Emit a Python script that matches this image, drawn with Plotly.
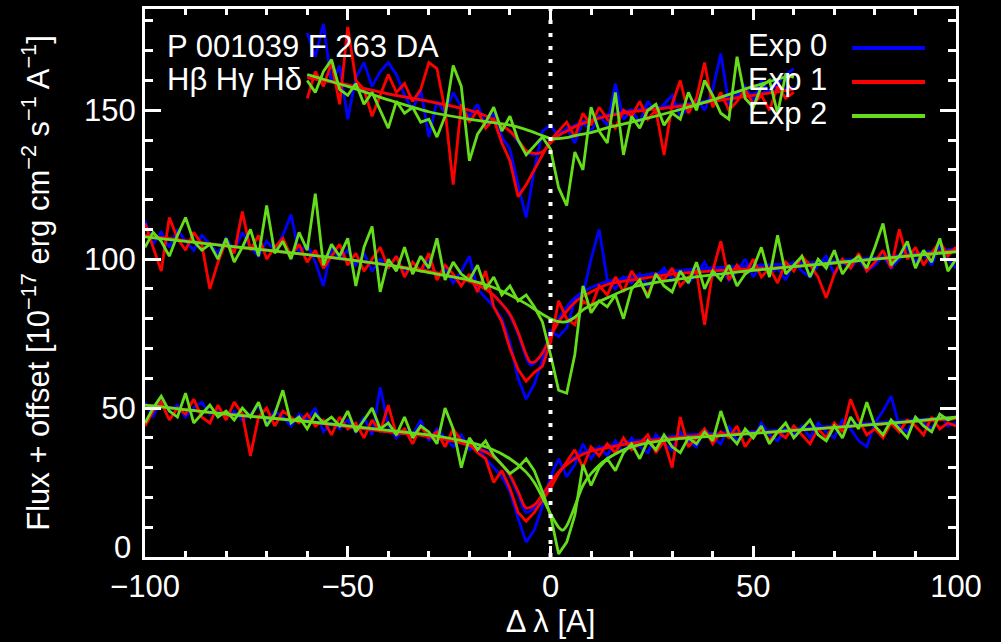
import plotly.graph_objects as go

# ---------------- wavelength grids (Delta lambda, Angstrom) ----------------
hb_lam = list(range(-100, 101, 2))   # H beta  (bottom)
hg_lam = list(range(-100, 101, 2))   # H gamma (middle)
hd_lam = list(range(-60, 61, 2))     # H delta (top)

# ---------------- H beta observed flux + offset ----------------
hb_exp0 = [52, 47, 53, 49, 51, 47, 50, 52, 48, 50,
           47, 49, 46, 48, 51, 45, 49, 47, 44, 48,
           46, 50, 42, 45, 43, 46, 42, 47, 41, 57,
           44, 40, 43, 41, 46, 39, 43, 40, 37, 41,
           36, 37, 33, 30, 27, 22, 13, 5, 9, 17,
           27, 33, 27, 31, 38, 33, 37, 34, 39, 35,
           40, 37, 35, 41, 38, 36, 42, 39, 37, 43,
           40, 38, 44, 39, 42, 40, 45, 41, 39, 43,
           41, 44, 40, 45, 42, 40, 46, 43, 39, 37,
           45, 49, 54, 44, 42, 47, 45, 43, 48, 44,
           45]
hb_exp1 = [44, 49, 52, 46, 50, 48, 53, 47, 45, 51,
           46, 52, 48, 34, 47, 50, 44, 49, 47, 45,
           48, 44, 46, 41, 47, 43, 45, 40, 46, 42,
           51, 41, 43, 38, 44, 40, 42, 37, 43, 39,
           38, 35, 33, 25, 29, 23, 15, 12, 15, 19,
           23, 28, 32, 36, 30, 37, 34, 38, 35, 40,
           36, 38, 41, 35, 39, 30, 47, 37, 40, 43,
           38, 42, 40, 44, 37, 41, 43, 39, 42, 40,
           44, 41, 38, 43, 40, 45, 42, 53, 46, 41,
           43, 40, 45, 42, 46, 44, 41, 47, 43, 45,
           44]
hb_exp2 = [45, 50, 54, 49, 47, 55, 45, 48, 51, 47,
           49, 46, 50, 47, 52, 44, 48, 56, 45, 47,
           43, 48, 45, 47, 44, 49, 42, 46, 50, 43,
           45, 41, 47, 40, 44, 42, 38, 50, 43, 30,
           40, 36, 39, 34, 31, 28, 30, 33, 29, 22,
           14, 1, 5, 14, 31, 24, 30, 33, 29, 35,
           38, 33, 39, 36, 41, 37, 35, 40, 38, 42,
           39, 49, 41, 38, 43, 40, 44, 38, 42, 45,
           40, 43, 46, 41, 39, 44, 40, 47, 43, 52,
           44, 41, 46, 43, 40, 47, 44, 42, 48, 46,
           47]

# ---------------- H gamma observed flux + offset ----------------
hg_exp0 = [113, 105, 109, 104, 110, 106, 103, 108, 105, 102,
           107, 103, 109, 104, 101, 106, 103, 108, 115, 102,
           105, 99, 91, 104, 100, 103, 98, 102, 96, 100,
           97, 101, 95, 99, 96, 100, 94, 97, 92, 96,
           101, 90, 87, 84, 80, 72, 60, 53, 58, 66,
           76, 74, 77, 86, 88, 100, 110, 93, 90, 94,
           92, 95, 91, 94, 97, 93, 96, 92, 95, 99,
           94, 97, 93, 96, 100, 94, 98, 95, 97, 93,
           99, 96, 94, 98, 101, 95, 99, 97, 100, 96,
           98, 101, 97, 100, 104, 99, 102, 98, 105, 100,
           97]
hg_exp1 = [112, 104, 96, 114, 107, 103, 109, 105, 90, 99,
           106, 102, 116, 103, 108, 100, 104, 107, 101, 105,
           99, 103, 97, 101, 105, 98, 102, 96, 100, 104,
           97, 101, 94, 99, 96, 102, 93, 98, 95, 91,
           95, 89, 96, 84, 79, 70, 63, 59, 62, 64,
           72, 86, 80, 78, 86, 84, 91, 88, 94, 89,
           96, 92, 88, 95, 93, 97, 91, 94, 96, 78,
           96, 106, 93, 98, 95, 100, 94, 97, 92, 99,
           96, 101, 98, 94, 87, 95, 100, 97, 102, 96,
           99, 103, 97, 110, 100, 104, 98, 102, 106, 101,
           104]
hg_exp2 = [104, 109, 106, 101, 108, 114, 106, 103, 105, 100,
           107, 99, 104, 110, 101, 118, 102, 106, 100, 109,
           103, 122, 98, 105, 101, 107, 91, 104, 111, 89,
           100, 96, 104, 95, 101, 97, 107, 93, 99, 95,
           93, 98, 90, 94, 88, 91, 86, 88, 84, 79,
           68, 56, 55, 68, 91, 82, 86, 84, 88, 80,
           90, 93, 87, 95, 91, 89, 96, 92, 99, 90,
           96, 93, 98, 91, 95, 97, 104, 94, 108, 95,
           98, 101, 94, 100, 97, 103, 95, 99, 101, 97,
           104, 112, 98, 101, 106, 97, 103, 99, 107, 96,
           100]

# ---------------- H delta observed flux + offset ----------------
hd_exp0 = [176, 168, 179, 159, 165, 147, 161, 166, 158, 163,
           166, 162, 155, 150, 157, 141, 153, 149, 156, 151,
           148, 152, 145, 149, 141, 137, 125, 114, 130, 143,
           145, 141, 144, 139, 146, 143, 148, 145, 159, 147,
           150, 146, 153, 149, 152, 155, 148, 151, 154, 150,
           157, 169, 152, 155, 158, 153, 160, 156, 159, 162,
           164]
hd_exp1 = [154, 163, 158, 166, 152, 178, 160, 157, 148, 155,
           162, 156, 159, 153, 157, 166, 164, 150, 125, 152,
           146, 150, 144, 147, 139, 133, 121, 125, 130, 135,
           140, 143, 146, 141, 149, 145, 151, 147, 144, 150,
           148, 153, 147, 150, 135, 152, 160, 149, 154, 166,
           151, 156, 150, 153, 157, 152, 155, 150, 158, 154,
           156]
hd_exp2 = [160, 156, 163, 167, 157, 155, 159, 152, 156, 150,
           144, 153, 149, 151, 146, 147, 141, 148, 165, 158,
           133, 142, 146, 151, 143, 148, 140, 135, 138, 141,
           137, 124, 118, 136, 130, 151, 143, 139, 156, 135,
           148, 144, 150, 152, 145, 149, 147, 156, 150, 160,
           155, 149, 147, 168, 154, 151, 158, 160, 149, 162,
           161]

# ---------------- fitted model profiles (knots) ----------------
hb_m01_lam = [-100, -80, -60, -40, -30, -20, -15, -12, -10, -8, -6, -4, -2, 0, 2, 4, 6, 8, 10, 15, 20, 30, 40, 55, 70, 85, 100]
hb_m0 = [51, 48, 45.5, 42, 40.5, 37.5, 35, 31, 27, 21, 15, 16.5, 20.5, 25, 28.5, 31.5, 33.5, 35, 36, 37.5, 38.8, 40.5, 41.5, 42.5, 44, 45.5, 47]
hb_m1 = [51, 48, 45.5, 42, 40.5, 37.5, 34.5, 31, 27.5, 22, 16.5, 17.5, 21, 25, 28.5, 31, 33, 34.5, 35.5, 37, 38.2, 40, 41, 42, 43.5, 45, 46.5]
hb_m2_lam = [-100, -80, -60, -40, -30, -20, -15, -10, -6, -4, -2, 0, 2, 3, 4, 6, 8, 10, 14, 20, 30, 45, 60, 80, 100]
hb_m2 = [51, 48, 45.5, 42.5, 41, 38.5, 36.5, 33, 28.5, 25, 20, 14.5, 10, 9, 10.5, 17, 24, 28, 33, 37, 39.5, 41, 42.5, 44.5, 47]

hg_m01_lam = [-100, -80, -60, -40, -30, -20, -15, -12, -10, -8, -6, -5, -4, -2, 0, 2, 4, 6, 8, 10, 14, 20, 30, 45, 60, 80, 100]
hg_m0 = [108, 104.5, 101.5, 98, 96, 92.5, 89, 85, 81, 75, 67, 64.5, 65, 68.5, 74.5, 80, 84, 87, 89, 90.5, 92.5, 94, 96, 97.5, 98.5, 100.5, 103.5]
hg_m1 = [108, 104.5, 101.5, 98, 96, 92.5, 89, 85, 81.5, 75.5, 68, 65.5, 65.5, 68.5, 74, 79, 82.5, 85.5, 87.5, 89, 91.5, 93, 95, 96.5, 97.5, 100, 103]
hg_m2_lam = [-100, -80, -60, -40, -30, -20, -15, -10, -6, -2, 0, 2, 4, 6, 8, 10, 14, 20, 30, 45, 60, 80, 100]
hg_m2 = [107.5, 104.5, 101.5, 98, 95.5, 93, 91, 88, 85, 81.5, 80, 79, 79, 80.5, 83, 84.5, 87, 90.5, 93, 95.5, 97.5, 100, 102.5]

hd_m01_lam = [-60, -50, -40, -30, -20, -15, -10, -8, -6, -4, -2, 0, 2, 4, 6, 10, 14, 20, 30, 40, 50, 60]
hd_m0 = [161, 158.5, 155.5, 153, 150, 147.5, 143, 139.5, 136, 135, 136, 139.5, 142, 143.5, 145, 147, 148.5, 150, 151.5, 153.5, 155.5, 157.5]
hd_m1 = [161, 158.5, 155.5, 153, 150, 147.5, 143, 140, 136.5, 135.5, 136, 139, 141.5, 143, 144.5, 146.5, 148, 149.5, 151, 153, 155, 157]
hd_m2_lam = [-60, -50, -40, -30, -20, -15, -10, -6, -2, 0, 2, 4, 6, 10, 15, 20, 30, 40, 50, 60]
hd_m2 = [162, 158, 153.5, 149.5, 147, 146, 145, 143.5, 141.5, 140.5, 140.5, 140.8, 141.5, 142.5, 144.5, 146, 149.5, 153.5, 158, 162]

# ---------------- labels / style ----------------
exp_names = ["Exp 0", "Exp 1", "Exp 2"]
exp_colors = ["#0000ff", "#ff0000", "#66dd1a"]
title_text = "P 001039 F 263 DA"
lines_text = "Hβ Hγ Hδ"
x_ticks = [-100, -50, 0, 50, 100]
x_ticktext = ["\u2212100", "\u221250", "0", "50", "100"]
y_ticks = [0, 50, 100, 150]
y_ticktext = ["", "50", "100", "150"]   # the "0" label is lifted above the x labels (as in the original)

FONT = "Liberation Sans, Arial, Helvetica, sans-serif"
FS = 31

fig = go.Figure()

groups = [
    (hb_lam, [hb_exp0, hb_exp1, hb_exp2], [(hb_m01_lam, hb_m0), (hb_m01_lam, hb_m1), (hb_m2_lam, hb_m2)]),
    (hg_lam, [hg_exp0, hg_exp1, hg_exp2], [(hg_m01_lam, hg_m0), (hg_m01_lam, hg_m1), (hg_m2_lam, hg_m2)]),
    (hd_lam, [hd_exp0, hd_exp1, hd_exp2], [(hd_m01_lam, hd_m0), (hd_m01_lam, hd_m1), (hd_m2_lam, hd_m2)]),
]

for lam, datas, models in groups:
    for k in range(3):
        fig.add_trace(go.Scatter(x=lam, y=datas[k], mode="lines",
                                 line=dict(color=exp_colors[k], width=2.8),
                                 showlegend=False, hoverinfo="skip"))
        mx, my = models[k]
        fig.add_trace(go.Scatter(x=mx, y=my, mode="lines",
                                 line=dict(color=exp_colors[k], width=2.8, shape="spline", smoothing=0.8),
                                 showlegend=False, hoverinfo="skip"))

# dotted line at line centre
fig.add_shape(type="line", xref="x", yref="paper", x0=0, x1=0, y0=0, y1=1,
              line=dict(color="white", width=4, dash="4px,9px"))

# lifted "0" label of the y axis
fig.add_annotation(xref="paper", yref="paper", x=-0.015, y=0.018, xanchor="right", yanchor="middle",
                   text="0", showarrow=False, font=dict(family=FONT, size=FS, color="white"))

# text labels
fig.add_annotation(xref="paper", yref="paper", x=0.025, y=0.932, xanchor="left", yanchor="middle",
                   text=title_text, showarrow=False, font=dict(family=FONT, size=FS, color="white"))
fig.add_annotation(xref="paper", yref="paper", x=0.025, y=0.872, xanchor="left", yanchor="middle",
                   text=lines_text, showarrow=False, font=dict(family=FONT, size=FS, color="white"))

# legend (text left of coloured line)
leg_y = [0.9288, 0.8668, 0.8047]
for name, col, yy in zip(exp_names, exp_colors, leg_y):
    fig.add_annotation(xref="paper", yref="paper", x=0.8434, y=yy + 0.004, xanchor="right", yanchor="middle",
                       text=name, showarrow=False, font=dict(family=FONT, size=FS, color="white"))
    fig.add_shape(type="line", xref="paper", yref="paper", x0=0.8718, x1=0.9618, y0=yy, y1=yy,
                  line=dict(color=col, width=4))

axis_common = dict(showline=True, linecolor="white", linewidth=3, mirror="ticks",
                   ticks="inside", tickcolor="white", tickwidth=2.5,
                   showgrid=False, zeroline=False,
                   tickfont=dict(family=FONT, size=FS, color="white"))

fig.update_xaxes(range=[-100, 100], tickvals=x_ticks, ticktext=x_ticktext, ticklen=11,
                 minor=dict(dtick=10, ticklen=6, ticks="inside", tickcolor="white", tickwidth=2.5, showgrid=False),
                 title=dict(text="Δ λ [A]", font=dict(family=FONT, size=FS, color="white"), standoff=4),
                 **axis_common)
fig.update_yaxes(range=[0, 184], tickvals=y_ticks, ticktext=y_ticktext, ticklen=16,
                 minor=dict(dtick=10, ticklen=8, ticks="inside", tickcolor="white", tickwidth=2.5, showgrid=False),
                 title=dict(text="Flux + offset [10<sup>\u221217</sup> erg cm<sup>\u22122</sup> s<sup>\u22121</sup> A<sup>\u22121</sup>]",
                            font=dict(family=FONT, size=FS, color="white"), standoff=26),
                 **axis_common)

fig.update_layout(width=1001, height=642, margin=dict(l=145, r=45, t=9, b=85, autoexpand=False),
                  paper_bgcolor="black", plot_bgcolor="black", showlegend=False)

fig.write_html("out.html")
